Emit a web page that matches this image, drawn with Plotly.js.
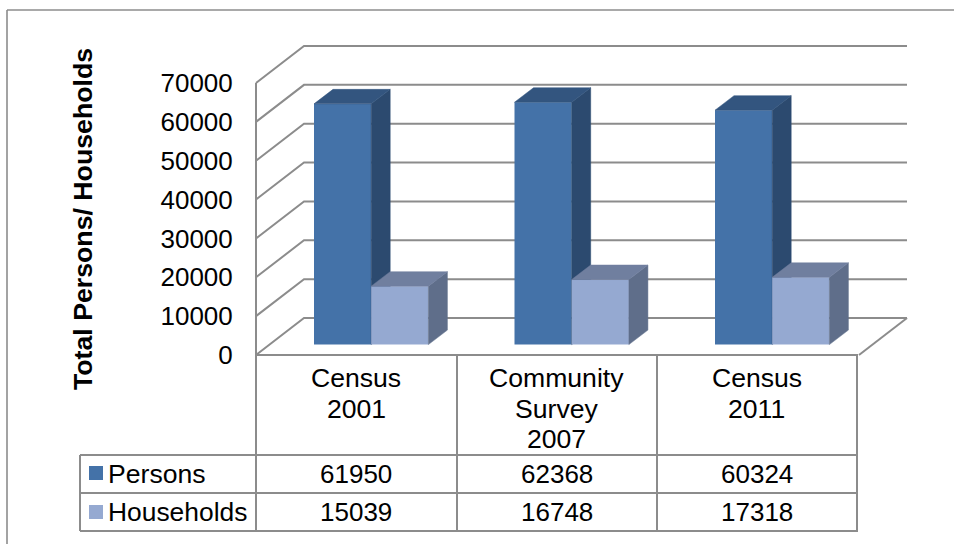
<!DOCTYPE html>
<html><head><meta charset="utf-8">
<script src="https://cdn.plot.ly/plotly-3.0.1.min.js"></script>
<style>html,body{margin:0;padding:0;background:#fff}#c{width:954px;height:544px}</style>
</head><body><div id="c"></div>
<script>
const categoryLines = [["Census","2001"],["Community","Survey","2007"],["Census","2011"]];
const seriesNames = ["Persons","Households"];
const persons = [61950,62368,60324];
const households = [15039,16748,17318];
const tickValues = [0,10000,20000,30000,40000,50000,60000,70000];
const yTitle = "Total Persons/ Households";

const W=954,H=544,FS=26,FL=26.6;
const pxX=200.5, pxY=0.003886;
const dx=p=>p/pxX, dy=p=>p/pxY;
const X=p=>(p-256)/pxX;          // pixel to x data, for the frame only
const wallDx=dx(48), wallDy=dy(37), wallEnd=X(907);
const barOff=X(314), barW=dx(57.2), depthX=dx(19), depthY=dy(14.5);
const GRID='#8c8c8c';
const BAR_BASE=344.6;

// wall grid lines on labelled axis
const gx=[],gy=[];
tickValues.forEach(v=>{gx.push(0,wallDx,wallEnd,null);gy.push(v,v+wallDy,v+wallDy,null);});
// left wall vertical and floor front diagonal
gx.push(0,0,null, wallEnd,wallEnd-wallDx,null);
gy.push(0,70000,null, wallDy,0,null);
const wall={type:'scatter',mode:'lines',x:gx,y:gy,xaxis:'x',yaxis:'y',line:{color:GRID,width:2},hoverinfo:'skip',showlegend:false};

function faces(vals,slot){
  const sx=[],sy=[],tx=[],ty=[];
  vals.forEach((v,i)=>{
    const l=i+barOff+slot*barW,r=l+barW;
    sx.push(r,r+depthX,r+depthX,r,r,null);
    sy.push(0,depthY,v+depthY,v,0,null);
    tx.push(l,l+depthX,r+depthX,r,l,null);
    ty.push(v,v+depthY,v+depthY,v,v,null);
  });
  return {sx,sy,tx,ty};
}
function barSet(vals,slot,name,front,side,top,ya){
  const f=faces(vals,slot);
  const common={type:'scatter',mode:'lines',fill:'toself',xaxis:'x',yaxis:ya,hoverinfo:'skip',showlegend:false};
  return [
    Object.assign({},common,{x:f.sx,y:f.sy,fillcolor:side,line:{color:side,width:0.5}}),
    Object.assign({},common,{x:f.tx,y:f.ty,fillcolor:top,line:{color:top,width:0.5}}),
    {type:'bar',name:name,x:[0,1,2],y:vals,offset:barOff+slot*barW,width:barW,xaxis:'x',yaxis:ya,
     marker:{color:front,line:{width:0}},showlegend:false}
  ];
}
const data=[wall,
  ...barSet(persons,0,seriesNames[0],'#4472a8','#2c4a6f','#33557f','y2'),
  ...barSet(households,1,seriesNames[1],'#95a9d1','#5f6e8a','#707f9f','y3')];

const py=p=>1-p/H, ppx=p=>p/W;
const line=(x0,y0,x1,y1,c,w)=>({type:'line',xref:'paper',yref:'paper',x0:ppx(x0),x1:ppx(x1),y0:py(y0),y1:py(y1),line:{color:c||GRID,width:w||2}});
const shapes=[
  line(7,10,954,10,'#8c8c8c',1.6), line(7,10,7,544,'#8c8c8c',1.6),
  line(256,355,858,355), line(80,455,858,455), line(80,493,858,493), line(80,531,858,531),
  line(80,455,80,531), line(256,355,256,531), line(457,355,457,531), line(657,355,657,531), line(857,355,857,531),
  {type:'rect',xref:'paper',yref:'paper',x0:ppx(89),x1:ppx(103),y0:py(466),y1:py(480),fillcolor:'#4472a8',line:{width:0}},
  {type:'rect',xref:'paper',yref:'paper',x0:ppx(89),x1:ppx(103),y0:py(505),y1:py(519),fillcolor:'#95a9d1',line:{width:0}}
];
const font=s=>({family:'Liberation Sans',size:s,color:'#000'});
const txt=(t,x,y,o)=>Object.assign({text:t,xref:'paper',yref:'paper',x:ppx(x),y:py(y),showarrow:false,xanchor:'center',yanchor:'middle',font:font(FS)},o||{});
const centres=[356,556.5,756.5];
const ann=[];
categoryLines.forEach((ls,i)=>ls.forEach((s,j)=>ann.push(txt(s,centres[i],378+j*30.5,{font:font(FL)}))));
persons.forEach((v,i)=>ann.push(txt(String(v),centres[i],473.5)));
households.forEach((v,i)=>ann.push(txt(String(v),centres[i],512)));
ann.push(txt(seriesNames[0],106,473.5,{xanchor:'left',font:font(FL)}));
ann.push(txt(seriesNames[1],106,512,{xanchor:'left',font:font(26.4)}));
ann.push(txt(yTitle,83,219,{textangle:-90,font:Object.assign(font(26.7),{weight:'bold'})}));

const layout={width:W,height:H,margin:{l:0,r:0,t:0,b:0},paper_bgcolor:'#fff',plot_bgcolor:'#fff',showlegend:false,
  barmode:'overlay',
  xaxis:{domain:[0,1],range:[X(0),X(W)],visible:false,fixedrange:true},
  yaxis:{domain:[0,1],range:[(355-H)/pxY,355/pxY],anchor:'free',position:256/W,side:'left',
    tickmode:'array',tickvals:tickValues,ticktext:tickValues.map(String),ticks:'outside',ticklen:18,tickcolor:'rgba(0,0,0,0)',
    showgrid:false,zeroline:false,showline:false,tickfont:font(FS),fixedrange:true},
  yaxis2:{domain:[0,1],range:[(BAR_BASE-H)/pxY,BAR_BASE/pxY],overlaying:'y',visible:false,fixedrange:true},
  yaxis3:{domain:[0,1],range:[(BAR_BASE-H)/pxY,BAR_BASE/pxY],overlaying:'y',visible:false,fixedrange:true},
  shapes:shapes,annotations:ann};
Plotly.newPlot('c',data,layout,{displayModeBar:false,staticPlot:true});
</script></body></html>
